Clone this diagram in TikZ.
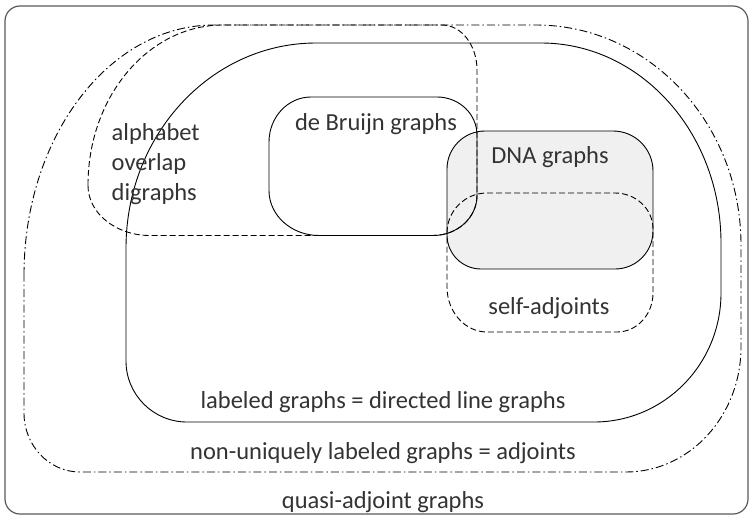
\documentclass[tikz,border=0pt]{standalone}
\usepackage{fontspec}
\setmainfont{Carlito}
\definecolor{dnafill}{HTML}{F0F0F0}
\definecolor{txt}{HTML}{333333}
\definecolor{frame}{HTML}{595959}
\def\kk{0.4477}
% #1 style, #2 rxTL, #3 ryTL, #4 rxTR, #5 ryTR, #6 rxBR, #7 ryBR, #8 rxBL, #9 ryBL
\newcommand\blobframe[4]{\def\bL{#1}\def\bT{#2}\def\bR{#3}\def\bB{#4}}
\newcommand\blob[9]{\path[#1] (\bL,\bT+#3) .. controls (\bL,\bT+#3*\kk) and (\bL+#2*\kk,\bT) .. (\bL+#2,\bT) -- (\bR-#4,\bT) .. controls (\bR-#4*\kk,\bT) and (\bR,\bT+#5*\kk) .. (\bR,\bT+#5) -- (\bR,\bB-#7) .. controls (\bR,\bB-#7*\kk) and (\bR-#6*\kk,\bB) .. (\bR-#6,\bB) -- (\bL+#8,\bB) .. controls (\bL+#8*\kk,\bB) and (\bL,\bB-#9*\kk) .. (\bL,\bB-#9) -- cycle;}
\tikzset{
  solidline/.style={draw=black,line width=0.9pt},
  dashline/.style={draw=black,line width=0.9pt,dash pattern=on 6pt off 3pt},
  dashdotline/.style={draw=black,line width=0.9pt,dash pattern=on 8pt off 3pt on 1.5pt off 3pt},
  lbl/.style={inner sep=0pt,anchor=base,text=txt,font=\fontsize{24.5}{30}\selectfont},
  lblw/.style={lbl,anchor=base west}
}
\begin{document}
\begin{tikzpicture}[x=1pt,y=-1pt]
\useasboundingbox (0,0) rectangle (752,517);
% outer frame
\draw[draw=frame,line width=1.2pt,rounded corners=15pt] (5,6) rectangle (748,514);
% DNA graphs fill
\blobframe{447}{131}{653}{269}
\blob{fill=dnafill}{38}{38}{40}{40}{38}{38}{34}{34}
% non-uniquely labeled graphs = adjoints
\blobframe{24}{25}{741}{472}
\blob{dashdotline}{190}{250}{205}{220}{115}{125}{56}{59}
% labeled graphs
\blobframe{126}{43}{721}{422}
\blob{solidline}{190}{205}{180}{200}{127}{129}{61}{61}
% alphabet overlap digraphs
\blobframe{88}{25}{477}{235.5}
\blob{dashline}{135}{160}{35}{45}{44}{40}{62}{50}
% de Bruijn graphs
\blobframe{269}{97}{477}{235.5}
\blob{solidline}{42}{45}{40}{38}{44}{40}{50}{45}
% DNA graphs outline
\blobframe{447}{131}{653}{269}
\blob{solidline}{38}{38}{40}{40}{38}{38}{34}{34}
% self-adjoints
\blobframe{447}{193}{653}{332}
\blob{dashline}{40}{40}{38}{36}{36}{39}{40}{45}
% labels
\node[lblw] (alpha1) at (111.5,140) {alphabet};
\node[lblw] (alpha2) at (111.5,170) {overlap};
\node[lblw] (alpha3) at (111.5,200) {digraphs};
\node[lbl] (debruijn) at (376,130) {de Bruijn graphs};
\node[lbl] (dna) at (550,163) {DNA graphs};
\node[lbl] (selfadj) at (549,314) {self-adjoints};
\node[lbl] (labeled) at (383,408) {labeled graphs = directed line graphs};
\node[lbl] (nonuniq) at (383,459) {non-uniquely labeled graphs = adjoints};
\node[lbl] (quasi) at (383,508) {quasi-adjoint graphs};
\end{tikzpicture}
\end{document}
